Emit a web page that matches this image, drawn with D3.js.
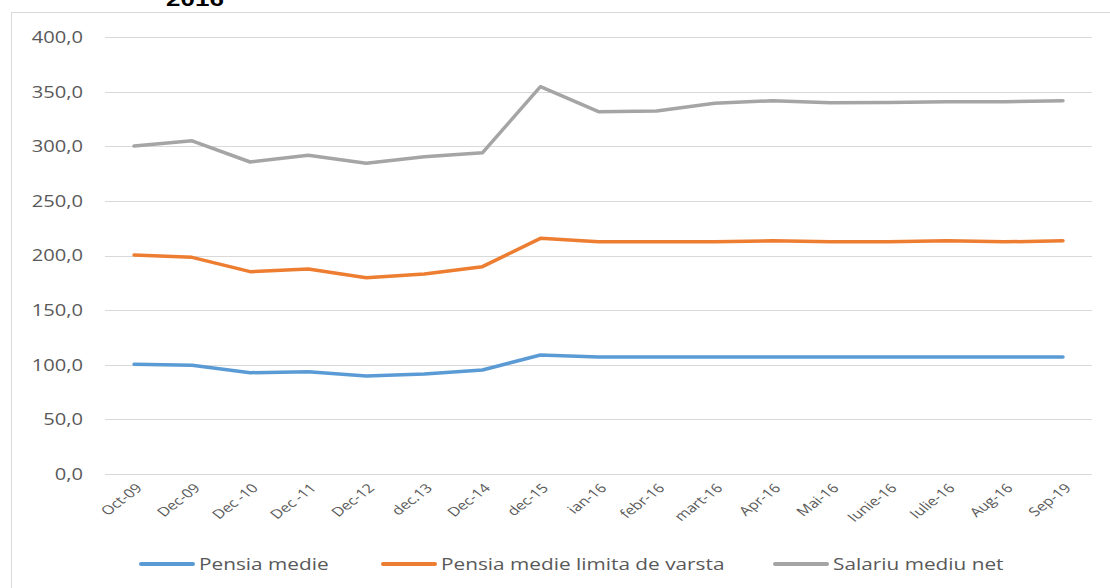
<!DOCTYPE html>
<html><head><meta charset="utf-8">
<script src="https://cdn.jsdelivr.net/npm/d3@7"></script>
<style>body{margin:0;background:#fff;}svg{display:block;}</style>
</head><body>
<svg id="c" width="1110" height="588"></svg>
<script>
const categories = ["Oct-09","Dec-09","Dec -10","Dec -11","Dec-12","dec.13","Dec-14","dec-15","ian-16","febr-16","mart-16","Apr-16","Mai-16","Iunie-16","Iulie-16","Aug-16","Sep-19"];
const pensiaMedie = [100.4,99.5,92.7,93.7,89.7,91.5,95.2,108.9,107.0,107.0,107.0,107.0,107.0,107.0,107.0,107.0,107.0];
const pensiaLimita = [200.5,198.3,185.2,187.6,179.7,183.0,189.8,215.7,212.5,212.5,212.5,213.5,212.5,212.5,213.5,212.5,213.5];
const salariu = [300.2,305.0,285.6,291.7,284.4,290.4,294.0,354.5,331.6,332.3,339.3,341.7,339.9,340.0,340.8,340.8,341.7];
const yTicks = [0,50,100,150,200,250,300,350,400];
const seriesNames = ["Pensia medie","Pensia medie limita de varsta","Salariu mediu net"];
const colors = ["#5B9BD5","#ED7D31","#A5A5A5"];
const title = "2016";

const SX = 1.3; // horizontal stretch of the original picture's text
const svg = d3.select("#c");
const font = "'Open Sans', sans-serif";
// frame
svg.append("line").attr("x1",11.5).attr("x2",11.5).attr("y1",12).attr("y2",588).attr("stroke","#D9D9D9");
svg.append("line").attr("x1",11).attr("x2",1110).attr("y1",12.5).attr("y2",12.5).attr("stroke","#D9D9D9");
// title (cut off at top as in the reference)
svg.append("g").attr("transform",`translate(195,6) scale(${SX},1)`)
  .append("text").attr("text-anchor","middle")
  .attr("font-family","'Liberation Sans', Arial, sans-serif").attr("font-weight","bold").attr("font-size",20).text(title);

const x = d3.scaleBand().domain(categories).range([105,1092]);
const y = d3.scaleLinear().domain([0,400]).range([474,37]);
const fmt = d => d3.format(".1f")(d).replace(".",",");

// grid
svg.append("g").selectAll("line").data(yTicks).join("line")
  .attr("x1",105).attr("x2",1092).attr("y1",d=>Math.round(y(d))+0.5).attr("y2",d=>Math.round(y(d))+0.5)
  .attr("stroke","#D9D9D9").attr("stroke-width",1);

// y axis labels
const yAxis = svg.append("g").attr("transform","translate(105,0)")
  .call(d3.axisLeft(y).tickValues(yTicks).tickFormat(fmt).tickSize(0).tickPadding(0));
yAxis.select(".domain").remove();
yAxis.selectAll(".tick text").attr("font-family",font).attr("font-size",15.5).attr("fill","#595959")
  .attr("x",0).attr("dy","0.35em").attr("text-anchor","end")
  .attr("transform",`translate(-22,0) scale(${SX},1)`);

// x axis labels
const xAxis = svg.append("g").attr("transform","translate(0,474)")
  .call(d3.axisBottom(x).tickSize(0).tickPadding(0));
xAxis.select(".domain").remove();
xAxis.selectAll(".tick text").attr("font-family",font).attr("font-size",12.5).attr("fill","#595959")
  .attr("text-anchor","end").attr("y",0).attr("dy",0)
  .attr("transform",`translate(9,15) scale(${SX},1) rotate(-45)`);

const data = [pensiaMedie,pensiaLimita,salariu];
const line = d3.line().x((d,i)=>x(categories[i])+x.bandwidth()/2).y(d=>y(d));
svg.append("g").selectAll("path").data(data).join("path")
  .attr("d",line).attr("fill","none").attr("stroke",(d,i)=>colors[i])
  .attr("stroke-width",3.5).attr("stroke-linejoin","round").attr("stroke-linecap","round");

// legend
const legX = [140,382,774];
const leg = svg.append("g").selectAll("g").data(seriesNames).join("g")
  .attr("transform",(d,i)=>`translate(${legX[i]},564)`);
leg.append("line").attr("x1",1).attr("x2",53).attr("stroke",(d,i)=>colors[i]).attr("stroke-width",4).attr("stroke-linecap","round");
leg.append("g").attr("transform",`translate(59,6) scale(${SX},1)`)
  .append("text").attr("font-family",font).attr("font-size",16).attr("fill","#595959").text(d=>d);
</script>
</body></html>
